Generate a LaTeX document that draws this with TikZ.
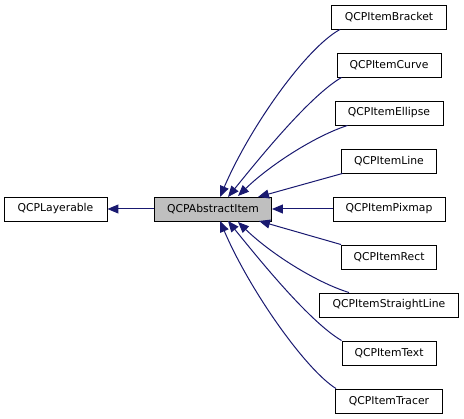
\documentclass[tikz,border=0pt]{standalone}
\usepackage{fontspec}
\setmainfont{DejaVu Sans}
\usetikzlibrary{arrows.meta}
\definecolor{edgeblue}{HTML}{191970}
\begin{document}
\begin{tikzpicture}[x=1pt,y=-1pt,
  cls/.style={draw=black,line width=0.9pt,fill=white,inner sep=0pt,minimum height=24pt,font=\fontsize{10.8}{12}\selectfont},
  inh/.style={draw=edgeblue,line width=1pt,-{Triangle[length=11pt,width=9pt]}}]
\useasboundingbox (0,0) rectangle (464,419);
\node[cls,minimum width=103pt] (lay) at (55.5,209) {QCPLayerable};
\node[cls,minimum width=117pt,fill=black!25] (abs) at (213,209) {QCPAbstractItem};
\node[cls,minimum width=115pt] (brk) at (389,17) {QCPItemBracket};
\node[cls,minimum width=104pt] (crv) at (389,65) {QCPItemCurve};
\node[cls,minimum width=108pt] (ell) at (389,113) {QCPItemEllipse};
\node[cls,minimum width=95pt] (lin) at (389,161) {QCPItemLine};
\node[cls,minimum width=112pt] (pix) at (389,209) {QCPItemPixmap};
\node[cls,minimum width=95pt] (rct) at (389,257) {QCPItemRect};
\node[cls,minimum width=139pt] (sln) at (389,305) {QCPItemStraightLine};
\node[cls,minimum width=94pt] (txt) at (389,353) {QCPItemText};
\node[cls,minimum width=107pt] (trc) at (389,401) {QCPItemTracer};
\coordinate (t1) at (220,197);
\coordinate (t2) at (228,197);
\coordinate (t3) at (238,196);
\coordinate (t4) at (258,197);
\coordinate (b4) at (259,221);
\coordinate (b3) at (238,222);
\coordinate (b2) at (228,221);
\coordinate (b1) at (220,221);
\draw[inh] (abs.west) -- (lay.east);
\draw[inh] ([xshift=9pt]brk.south west) .. controls (306,48) and (250,127) .. (t1);
\draw[inh] ([xshift=5pt]crv.south west) .. controls (310,96) and (262,155) .. (t2);
\draw[inh] ([xshift=13pt]ell.south west) .. controls (315,136) and (270,165) .. (t3);
\draw[inh] ([xshift=1.5pt]lin.south west) -- (t4);
\draw[inh] (pix.west) -- (abs.east);
\draw[inh] (rct.north west) -- (b4);
\draw[inh] ([xshift=30pt]sln.north west) .. controls (315,282) and (270,253) .. (b3);
\draw[inh] (txt.north west) .. controls (310,322) and (262,263) .. (b2);
\draw[inh] ([xshift=1pt]trc.north west) .. controls (306,370) and (250,291) .. (b1);
\end{tikzpicture}
\end{document}
